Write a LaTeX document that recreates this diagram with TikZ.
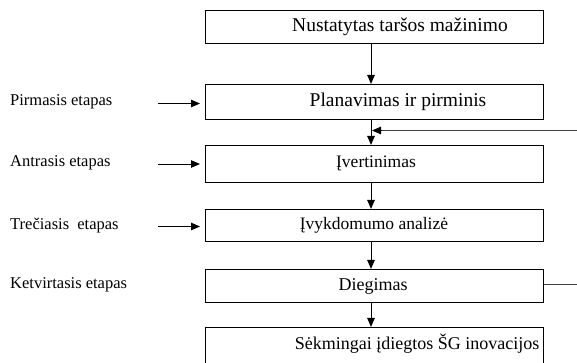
\documentclass[tikz,border=0pt]{standalone}
\usepackage{fontspec}
\setmainfont{Liberation Serif}
\usetikzlibrary{arrows.meta}
\begin{document}
\begin{tikzpicture}[x=1pt,y=-1pt,
  stagebox/.style={draw,line width=1.1pt,minimum width=338pt,inner sep=0pt},
  boxtext/.style={font=\fontsize{19.5}{22}\selectfont,inner sep=0pt},
  smalltext/.style={font=\fontsize{17.5}{20}\selectfont,inner sep=0pt},
  sidetext/.style={font=\fontsize{16.5}{19}\selectfont,inner sep=0pt,anchor=west},
  flow/.style={line width=1pt,-{Triangle[length=9pt,width=7.5pt]}},
  loopline/.style={line width=1pt,draw=black!75}]
\useasboundingbox (0,0) rectangle (577,362);
\begin{scope}
\clip (0,0) rectangle (577,362);
% main column of stages
\node[stagebox,minimum height=33pt] (b1) at (374.5,27) {};
\node[stagebox,minimum height=35pt] (b2) at (374.5,102) {};
\node[stagebox,minimum height=37pt] (b3) at (374.5,164) {};
\node[stagebox,minimum height=32pt] (b4) at (374.5,225.5) {};
\node[stagebox,minimum height=33pt] (b5) at (374.5,286) {};
\node[stagebox,minimum height=60pt] (b6) at (374.5,357.5) {};
\node[boxtext] (t1) at (400,27) {Nustatytas taršos mažinimo};
\node[boxtext] (t2) at (398,102) {Planavimas ir pirminis};
\node[smalltext] (t3) at (376,163) {Įvertinimas};
\node[smalltext] (t4) at (374,225) {Įvykdomumo analizė};
\node[smalltext,font=\fontsize{18}{21}\selectfont] (t5) at (373,286) {Diegimas};
\node[smalltext,font=\fontsize{18}{21}\selectfont] (t6) at (417,344) {Sėkmingai įdiegtos ŠG inovacijos};
% stage labels
\node[sidetext] (l1) at (10,102) {Pirmasis etapas};
\node[sidetext] (l2) at (10,162.5) {Antrasis etapas};
\node[sidetext] (l3) at (10,226) {Trečiasis\ \ etapas};
\node[sidetext] (l4) at (10,285) {Ketvirtasis etapas};
% feedback loop from deployment back to assessment
\coordinate (j) at (372,130.5);
\coordinate (fr) at (590,284.5);
\coordinate (ft) at (590,130.5);
\draw[loopline] (b5.east |- fr) -- (fr) -- (ft) -- ([xshift=8pt]j);
\draw[flow] ([xshift=9pt]j) -- (j);
% downward flow
\draw[flow] ([xshift=-3.5pt]b1.south) -- ([xshift=-3.5pt]b2.north);
\draw[flow] ([xshift=-3.5pt]b2.south) -- ([xshift=-3.5pt]b3.north);
\draw[flow] ([xshift=-3.5pt]b3.south) -- ([xshift=-3.5pt]b4.north);
\draw[flow] ([xshift=-3.5pt]b4.south) -- ([xshift=-3.5pt]b5.north);
\draw[flow] ([xshift=-3.5pt]b5.south) -- ([xshift=-3.5pt]b6.north);
% stage arrows
\draw[flow] (158,103.5) -- (200,103.5);
\draw[flow] (158,164) -- (200,164);
\draw[flow] (158,226.5) -- (200,226.5);
\end{scope}
\end{tikzpicture}
\end{document}
